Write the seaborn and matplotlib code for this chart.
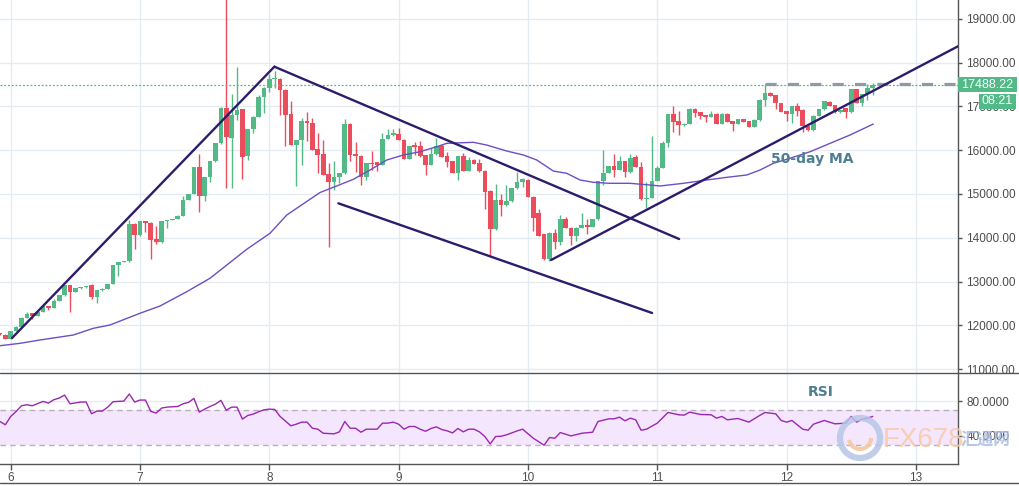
import numpy as np
import matplotlib
matplotlib.use("Agg")
import matplotlib.pyplot as plt
import seaborn as sns
from matplotlib.lines import Line2D
from matplotlib.patches import Rectangle, Ellipse, Arc

# ---------------- data (hourly candles, day 5 22:00 -> day 12 16:00) ----------------
opens = [11810,11780,11697,11871,11960,12174,12273,12212,12311,12440,
         12400,12553,12682,12917,12765,12845,12864,12917,12650,12800,
         12834,12940,13372,13448,13463,14320,14054,14373,14342,13963,
         13895,14373,14408,14430,14500,14870,15000,15612,14945,15385,
         15749,16158,16970,16272,16802,16931,15870,16476,16765,17220,
         17430,17636,17636,17386,16825,16120,16233,16674,16628,16021,
         15915,15455,15280,15379,15470,16590,15924,15879,15379,15712,
         15727,15674,16265,16341,16379,16242,15803,16121,16091,15886,
         15667,15909,16091,15864,15758,15485,15864,15530,15773,15712,
         15530,15075,14191,14860,14738,14837,15126,15270,15331,14936,
         14556,14077,13507,14115,13902,14434,14229,14039,14229,14282,
         14252,14419,15293,15483,15635,15544,15749,15498,15848,15620,
         14880,14913,15298,15594,16164,16818,16666,16567,16605,16947,
         16863,16795,16757,16833,16605,16833,16666,16605,16719,16658,
         16529,16681,17152,17312,17251,17084,16894,16833,17015,16909,
         16545,16454,16788,16939,17091,17038,16864,16962,16864,17394,
         17076,17288,17417]
closes = [11790,11697,11871,11970,12174,12258,12212,12311,12440,12400,
          12553,12682,12910,12765,12850,12864,12895,12650,12800,12834,
          12940,13372,13448,13463,14320,14054,14373,14335,13940,13895,
          14373,14408,14430,14500,14870,15000,15612,14945,15385,15749,
          16158,16970,16310,16802,16916,15855,16476,16765,17220,17430,
          17620,17660,17386,16802,16120,16233,16674,16628,16006,15900,
          15438,15280,15379,15470,16590,15886,15879,15379,15697,15682,
          15674,16265,16341,16394,16242,15803,16091,16076,15864,15667,
          15909,16091,15848,15727,15485,15864,15530,15773,15682,15515,
          15053,14191,14860,14738,14837,15126,15270,15346,14936,14450,
          14039,13507,14115,13902,14434,14229,14039,14229,14282,14252,
          14419,15293,15483,15635,15544,15749,15498,15825,15620,14880,
          14913,15298,15594,16164,16818,16643,16567,16605,16947,16848,
          16772,16757,16818,16605,16833,16643,16605,16719,16643,16529,
          16681,17152,17312,17243,17084,16871,16833,17015,16886,16545,
          16454,16788,16939,17114,17015,16864,16924,16864,17394,17076,
          17288,17417,17488]
highs = [11820,11790,11880,11990,12190,12303,12280,12320,12450,12445,
         12590,12690,12925,12925,12860,12880,12905,12935,12810,12845,
         12950,13380,13455,13480,14410,14330,14390,14385,14350,14260,
         14380,14415,14440,14510,14950,15010,15620,15916,15395,15760,
         16170,16990,19700,17295,17900,16945,16490,16780,17255,17440,
         17735,17810,17650,17400,17130,16245,16740,16885,16740,16385,
         16230,15700,15750,15480,16720,16630,16190,15890,15705,15980,
         15740,16400,16480,16490,16500,16250,16100,16180,16200,15895,
         16040,16290,16135,15950,15765,15870,15940,15850,15810,15800,
         15540,15085,15220,15010,15200,15135,15500,15355,15340,14945,
         14665,14085,14125,14190,14510,14480,14235,14235,14570,14420,
         14425,15300,16000,15645,15925,15860,15755,15925,15900,15740,
         15280,16316,15650,16210,16825,17000,16890,16615,16955,16955,
         16870,16800,16890,16840,16840,16840,16670,16725,16725,16665,
         16720,17160,17520,17320,17258,17090,16900,17020,17090,16940,
         16552,16795,16945,17120,17135,17045,16930,16970,17400,17400,
         17295,17515,17530]
lows = [11780,11690,11690,11860,11950,12160,12152,12205,12300,12350,
        12395,12545,12675,12310,12760,12835,12860,12590,12515,12790,
        12830,12935,13129,13440,13455,13743,14045,14130,13516,13865,
        13890,14230,14400,14425,14495,14865,14995,14597,14840,15264,
        15740,16150,15135,15135,16689,15340,15780,16386,16755,16840,
        17340,17430,16795,16105,16110,15172,15660,16200,15995,15490,
        15430,13800,15100,15250,15465,15750,15500,15200,15330,15555,
        15520,15665,16255,16335,16235,15795,15795,15900,15855,15430,
        15660,15900,15840,15620,15478,15330,15522,15525,15675,15508,
        14650,13570,14185,14500,14730,14815,15120,15150,14930,14160,
        14030,13500,13470,13750,13830,14220,13830,13930,14225,14090,
        14245,14410,15210,15475,15390,15540,15390,15490,15612,14870,
        14670,14905,15290,15590,16070,16415,16340,16560,16600,16760,
        16720,16640,16750,16600,16600,16636,16440,16600,16636,16522,
        16522,16675,17020,17236,16947,16864,16660,16620,16788,16410,
        16447,16430,16780,16930,17008,16857,16857,16735,16857,17070,
        17000,17140,17265]

# 50-period moving average
ma_day = [5.917, 6.072, 6.227, 6.484, 6.639, 6.767, 6.999, 7.155, 7.361, 7.541,
          7.825, 8.005, 8.135, 8.289, 8.392, 8.521, 8.650, 8.779, 8.908, 9.036,
          9.165, 9.295, 9.372, 9.578, 9.681, 9.836, 9.965, 10.068, 10.196, 10.300,
          10.403, 10.506, 10.635, 10.789, 10.944, 11.022, 11.202, 11.383, 11.538, 11.692,
          11.795, 11.898, 12.002, 12.182, 12.337, 12.491, 12.671]
ma_val = [11533, 11588, 11664, 11778, 11931, 12006, 12274, 12441, 12767, 13074,
          13736, 14102, 14520, 14828, 15034, 15183, 15336, 15548, 15777, 15891,
          15966, 16081, 16158, 16181, 16119, 15982, 15891, 15777, 15525, 15473,
          15320, 15267, 15244, 15244, 15205, 15183, 15244, 15320, 15381, 15434,
          15548, 15701, 15793, 15966, 16158, 16348, 16599]

# RSI (candle number, value)
rsi_idx = [1,2,3,4,5,6,7,9,10,11,12,13,14,16,17,18,19,20,21,22,24,25,26,27,28,29,30,31,32,
           34,35,36,37,38,39,40,41,42,43,44,45,46,47,48,49,50,51,52,53,55,56,57,58,59,60,61,
           63,64,65,66,67,68,69,71,72,73,74,75,76,77,78,79,80,81,82,83,84,85,86,87,88,89,90,
           91,92,93,94,95,97,98,100,102,103,104,105,107,109,111,112,114,115,116,117,118,119,
           120,121,123,125,127,128,129,131,133,134,135,136,138,140,142,143,145,146,147,148,
           150,151,152,154,156,158,159,160,161,162,163]
rsi_val = [56.7,52.9,62.6,68.4,75.0,76.2,75.0,80.0,78.1,82.0,83.9,87.4,77.3,79.3,79.3,65.7,
           68.8,68.8,73.4,79.7,80.4,88.6,79.3,81.6,81.6,68.4,66.5,72.3,73.4,
           74.2,77.3,78.9,83.5,67.6,71.1,74.2,76.9,81.2,69.9,73.4,73.4,59.5,63.7,65.3,68.0,
           70.3,71.1,70.7,62.6,51.7,53.6,56.0,56.0,48.9,47.8,43.1,
           42.4,44.7,56.7,48.9,48.9,44.3,47.8,47.8,54.8,54.8,56.0,53.6,47.8,50.9,50.9,47.8,
           45.4,48.6,50.5,47.4,45.9,43.5,48.6,44.7,47.8,47.8,44.7,
           39.3,30.7,39.3,39.6,41.2,45.8,47.8,37.3,29.2,38.1,37.3,43.9,40.0,43.1,44.3,56.7,
           59.8,59.8,61.8,57.5,60.6,58.7,
           46.6,47.8,54.8,67.2,64.5,64.1,67.6,64.9,64.5,60.6,62.6,58.7,60.2,56.0,63.7,67.2,
           65.6,57.9,56.0,57.9,
           47.8,46.6,53.6,57.9,54.0,54.8,62.6,56.0,59.4,60.6,62.6]

# drawn trend lines (day, price) start / end
trend_x0 = [6.010, 8.039, 8.534, 10.179]
trend_y0 = [11709, 17909, 14787, 13492]
trend_x1 = [8.039, 11.169, 10.960, 13.400]
trend_y1 = [17909, 13972, 12281, 18490]

last_price = 17488.22
resist_level = 17505
resist_start = 11.834
x_ticks = [6, 7, 8, 9, 10, 11, 12, 13]
price_ticks = [11000, 12000, 13000, 14000, 15000, 16000, 17000, 18000, 19000]
rsi_ticks = [80, 40]

# ---------------- styling ----------------
sns.set_theme(style="white")
plt.rcParams['font.family'] = ['Liberation Sans', 'DejaVu Sans']

GREEN = '#53b987'
RED = '#eb4d5c'
GRID = '#e4ecf3'
AXC = '#555555'
TXT = '#4d4d4d'
W, H = 1020, 486

def fx(px):
    return px / W

def fy(py):
    return 1 - py / H

fig = plt.figure(figsize=(10.2, 4.86), dpi=100)
ax = fig.add_axes([0, fy(372.5), fx(958), 372.5 / H])
axr = fig.add_axes([0, fy(464), fx(958), (464 - 373) / H], sharex=ax)

t0 = 5 + 22 / 24
n = len(closes)
t = t0 + np.arange(n) / 24
o = np.array(opens, float)
c = np.array(closes, float)
hi = np.array(highs, float)
lo = np.array(lows, float)
up = c >= o
cols = np.where(up, GREEN, RED)

# grid
for d in x_ticks:
    ax.axvline(d, color=GRID, lw=1, zorder=0)
    axr.axvline(d, color=GRID, lw=1, zorder=0)
for p in price_ticks:
    ax.axhline(p, color=GRID, lw=1, zorder=0)
for r in rsi_ticks:
    axr.axhline(r, color=GRID, lw=1, zorder=0)

# candles
ax.vlines(t, lo, hi, colors=cols, lw=1, zorder=2)
body_h = np.maximum(np.abs(c - o), 25)
ax.bar(t, body_h, bottom=np.minimum(o, c), width=0.036, color=cols, lw=0, zorder=3)

# MA
sns.lineplot(x=ma_day, y=ma_val, ax=ax, color='#6c4fc4', lw=1.0, zorder=4)

# trend lines
for x0, y0, x1, y1 in zip(trend_x0, trend_y0, trend_x1, trend_y1):
    sns.lineplot(x=[x0, x1], y=[y0, y1], ax=ax, color='#2d1b6b', lw=1.7,
                 zorder=5, sort=False)

# resistance dashes and last price line
ax.plot([resist_start, 13.5], [resist_level, resist_level], color='#9696aa',
        lw=2.3, dashes=(3.5, 3.5), zorder=4, solid_capstyle='butt')
ax.axhline(last_price, color=GREEN, lw=0.9, ls=(0, (1.5, 1.5)), zorder=4)

ax.text(11.88, 15800, '50-day MA', color='#4e7f90', fontsize=10, fontweight='bold',
        family='DejaVu Sans', ha='left', va='center', zorder=6)

# limits / axes
ax.set_xlim(5.917, 13.326)
ax.set_ylim(10921, 19433)
ax.yaxis.tick_right()
ax.set_yticks(price_ticks)
ax.set_yticklabels([f"{p:.2f}" for p in price_ticks])
ax.tick_params(axis='y', right=True, length=3, width=1, color=AXC, pad=3,
               labelsize=8.5, labelcolor=TXT)
ax.tick_params(axis='x', bottom=False, labelbottom=False)
for s in ['left', 'top', 'bottom']:
    ax.spines[s].set_visible(False)
ax.spines['right'].set_color(AXC)
ax.spines['right'].set_linewidth(1)
ax.set_xlabel('')
ax.set_ylabel('')

# RSI panel
axr.axhspan(30, 70, color='#f3e6fd', lw=0, zorder=0.5)
axr.axhline(70, color='#b9b0bd', lw=1, ls=(0, (4, 3)), zorder=1)
axr.axhline(30, color='#b9b0bd', lw=1, ls=(0, (4, 3)), zorder=1)
rsi_t = t0 + (np.array(rsi_idx) - 1) / 24
sns.lineplot(x=rsi_t, y=rsi_val, ax=axr, color='#9c27b0', lw=1.0, zorder=3)
axr.text(12.166, 91.3, 'RSI', color='#4e7f90', fontsize=10, fontweight='bold',
         family='DejaVu Sans', ha='left', va='center')
axr.set_ylim(7.4, 113)
axr.yaxis.tick_right()
axr.set_yticks(rsi_ticks)
axr.set_yticklabels([f"{r:.4f}" for r in rsi_ticks])
axr.tick_params(axis='y', right=True, length=3, width=1, color=AXC, pad=3,
                labelsize=8.5, labelcolor=TXT)
axr.set_xticks(x_ticks)
axr.set_xticklabels([str(d) for d in x_ticks])
axr.tick_params(axis='x', bottom=True, length=4, width=1, color=AXC, pad=2,
                labelsize=8.5, labelcolor=TXT)
for s in ['left', 'top']:
    axr.spines[s].set_visible(False)
for s in ['right', 'bottom']:
    axr.spines[s].set_color(AXC)
    axr.spines[s].set_linewidth(1)
axr.set_xlabel('')
axr.set_ylabel('')

# panel separators / borders
fig.add_artist(Line2D([0, 1], [fy(372.8)] * 2, color=AXC, lw=1))
fig.add_artist(Line2D([0, 1], [fy(483)] * 2, color=AXC, lw=1))

# price / time labels
fig.add_artist(Rectangle((fx(958), fy(92)), 59 / W, 15 / H, transform=fig.transFigure,
                         color=GREEN, lw=0, zorder=5))
fig.text(fx(987.5), fy(84.5), f"{last_price:.2f}", color='white', fontsize=9,
         ha='center', va='center', zorder=6)
fig.add_artist(Rectangle((fx(979), fy(109)), 37 / W, 15 / H, transform=fig.transFigure,
                         color=GREEN, lw=0, zorder=5))
fig.text(fx(997.5), fy(101.5), '08:21', color='white', fontsize=9,
         ha='center', va='center', zorder=6)

# watermark
fig.add_artist(Ellipse((fx(860), fy(438)), 40 / W, 40 / H, transform=fig.transFigure,
                       fill=False, ec='#b7c5e6', lw=4.5, alpha=0.85, zorder=10))
fig.add_artist(Arc((fx(860), fy(438)), 22 / W, 22 / H, transform=fig.transFigure,
                   theta1=200, theta2=360, color='#f5c7a4', lw=3, alpha=0.9, zorder=10))
fig.text(fx(883), fy(440), 'FX678', color='#f9c9a6', fontsize=20, alpha=0.85,
         family=['Liberation Sans'], ha='left', va='center', zorder=10)
fig.text(fx(961), fy(440), '汇通网', color='#a9bbdf', fontsize=12, alpha=0.85,
         family=['Noto Sans CJK SC', 'DejaVu Sans'], ha='left', va='center',
         fontweight='bold', zorder=10)

fig.savefig('out.png', dpi=100)
